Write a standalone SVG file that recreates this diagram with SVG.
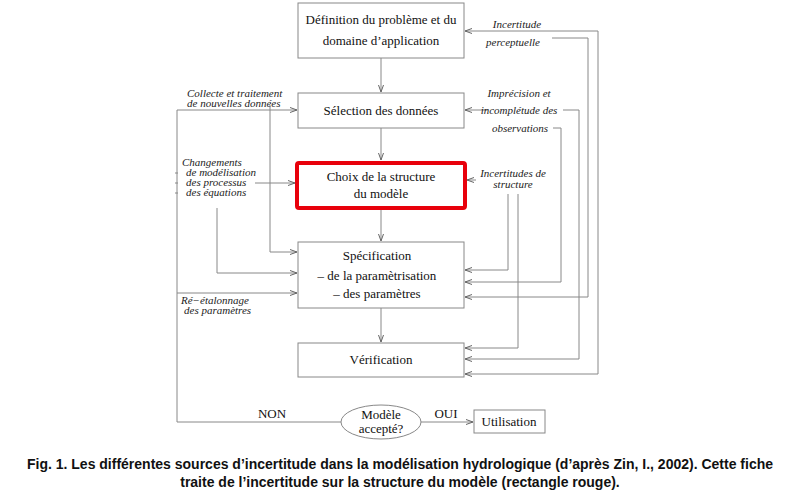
<svg xmlns="http://www.w3.org/2000/svg" width="800" height="492" viewBox="0 0 800 492">
<style>
.b{fill:#fff;stroke:#888;stroke-width:1}
.t{font-family:"Liberation Serif",serif;font-size:13px;fill:#111;text-anchor:middle}
.i{font-family:"Liberation Serif",serif;font-size:11px;font-style:italic;fill:#222}
.c{fill:none;stroke:#888;stroke-width:1;marker-end:url(#a)}
.l{fill:none;stroke:#888;stroke-width:1}
.cap{font-family:"Liberation Sans",sans-serif;font-size:14px;font-weight:bold;fill:#111;text-anchor:middle}
</style>
<defs><marker id="a" markerWidth="8" markerHeight="6" refX="7" refY="3" orient="auto" markerUnits="userSpaceOnUse"><path d="M0,0.5 L7,3 L0,5.5" fill="none" stroke="#666"/></marker></defs>
<rect width="800" height="492" fill="#fff"/>
<g id="connectors">
<path class="c" d="M381,58 V92"/>
<path class="c" d="M381,128 V160"/>
<path class="c" d="M381,209 V241"/>
<path class="c" d="M381,308 V342"/>
<path class="c" d="M545,31 H465"/>
<path class="c" d="M545,31 H598 V374 H465"/>
<path class="c" d="M552,38 H588 V297 H465"/>
<path class="c" d="M488,110 H465"/>
<path class="c" d="M563,110 H579 V359 H465"/>
<path class="c" d="M553,128 H561 V282 H465"/>
<path class="c" d="M476,180 H467"/>
<path class="c" d="M508,194 V270 H465"/>
<path class="c" d="M518,194 V348 H465"/>
<path class="c" d="M341,422 H177 V110 H297"/>
<path class="c" d="M270,105 V252 H297"/>
<path class="c" d="M255,183 H295"/>
<path class="c" d="M217,208 V273 H297"/>
<path class="c" d="M177,293 H297"/>
<path class="c" d="M421,422 H473"/>
<path class="l" d="M175,173 h3 M175,183 h3 M175,193 h3"/>
</g>
<g id="n1"><rect class="b" x="298" y="3" width="166" height="55"/><text class="t" x="381" y="24">Définition du problème et du</text><text class="t" x="381" y="45">domaine d’application</text></g>
<g id="n2"><rect class="b" x="298" y="93" width="166" height="35"/><text class="t" x="381" y="115">Sélection des données</text></g>
<g id="n3"><rect x="297" y="163" width="168" height="45" fill="#fff" stroke="#e8000b" stroke-width="4" rx="2"/><text class="t" x="381" y="181">Choix de la structure</text><text class="t" x="381" y="198">du modèle</text></g>
<g id="n4"><rect class="b" x="298" y="242" width="166" height="66"/><text class="t" x="377" y="260">Spécification</text><text class="t" x="377" y="280">– de la paramètrisation</text><text class="t" x="377" y="298">– des paramètres</text></g>
<g id="n5"><rect class="b" x="298" y="343" width="166" height="34"/><text class="t" x="381" y="364">Vérification</text></g>
<g id="n6"><ellipse class="b" cx="381" cy="422" rx="40" ry="17"/><text class="t" x="381" y="419">Modèle</text><text class="t" x="381" y="433">accepté?</text></g>
<g id="n7"><rect class="b" x="474" y="410" width="71" height="23"/><text class="t" x="509" y="426">Utilisation</text></g>
<g id="labels">
<text class="i" x="517" y="28" text-anchor="middle">Incertitude</text>
<text class="i" x="513" y="46" text-anchor="middle">perceptuelle</text>
<text class="i" x="519" y="97" text-anchor="middle">Imprécision et</text>
<text class="i" x="519" y="114" text-anchor="middle">incomplétude des</text>
<text class="i" x="520" y="132" text-anchor="middle">observations</text>
<text class="i" x="513" y="177" text-anchor="middle">Incertitudes de</text>
<text class="i" x="513" y="188" text-anchor="middle">structure</text>
<text class="i" x="187" y="97">Collecte et traitement</text>
<text class="i" x="187" y="107">de nouvelles données</text>
<text class="i" x="182" y="166">Changements</text>
<text class="i" x="186" y="176">de modélisation</text>
<text class="i" x="186" y="186">des processus</text>
<text class="i" x="186" y="196">des équations</text>
<text class="i" x="181" y="304">Ré−étalonnage</text>
<text class="i" x="184" y="314">des paramètres</text>
<text class="t" x="272" y="418">NON</text>
<text class="t" x="446" y="418">OUI</text>
</g>
<text class="cap" x="400" y="469">Fig. 1. Les différentes sources d’incertitude dans la modélisation hydrologique (d’après Zin, I., 2002). Cette fiche</text>
<text class="cap" x="400" y="487">traite de l’incertitude sur la structure du modèle (rectangle rouge).</text>
</svg>
